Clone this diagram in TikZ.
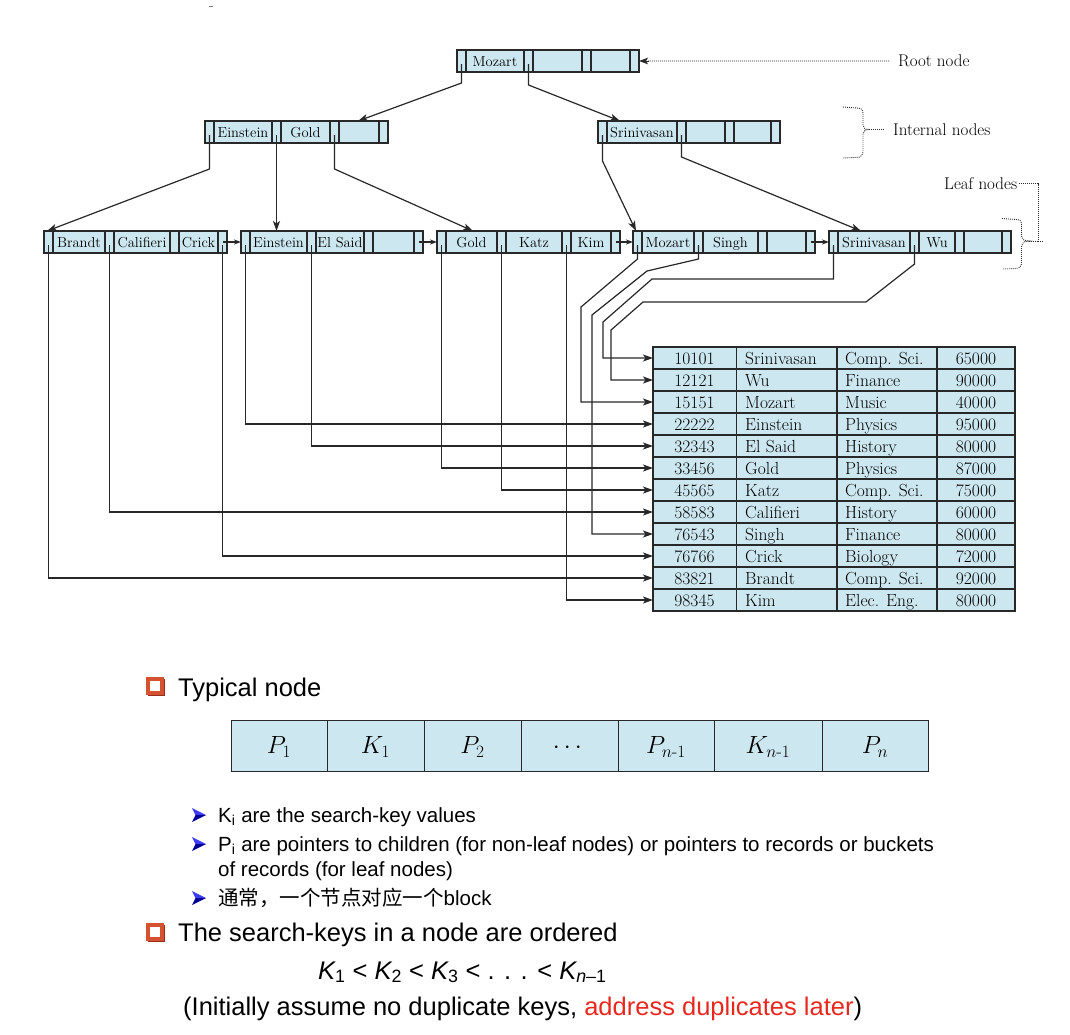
\documentclass[tikz,border=0pt]{standalone}
\usepackage{fontspec}
\usepackage{amsmath}
\usetikzlibrary{arrows.meta,calc}
\newfontfamily\arialf{Liberation Sans}
\newfontfamily\cjkf{Noto Sans CJK SC}
\definecolor{cellblue}{RGB}{204,231,240}
\definecolor{edgec}{RGB}{40,40,40}
\definecolor{redtxt}{RGB}{232,40,30}
\definecolor{sqc}{RGB}{212,82,48}
\definecolor{sqd}{RGB}{150,45,25}
\definecolor{bullb}{RGB}{60,60,245}
\definecolor{bulld}{RGB}{0,0,150}
\tikzset{
  bbox/.style={draw=edgec, fill=cellblue, line width=1.1pt, inner sep=0pt, outer sep=0pt, minimum height=22pt},
  cellsep/.style={draw=edgec, line width=1.1pt},
  keyt/.style={anchor=base, inner sep=0pt, text=black, font=\fontsize{14.5}{16}\selectfont},
  tabt/.style={inner sep=0pt, text=black, font=\fontsize{17.5}{20}\selectfont},
  labt/.style={inner sep=0pt, text=black, font=\fontsize{17}{20}\selectfont},
  conn/.style={draw=edgec, line width=1.2pt},
  arr/.style={conn, -{Stealth[length=10pt,width=7pt,inset=2.5pt]}},
  sarr/.style={conn, -{Stealth[length=7pt,width=5pt,inset=2pt]}},
  dotl/.style={draw=edgec, line width=0.9pt, dash pattern=on 0.9pt off 1.1pt},
  bigt/.style={inner sep=0pt, text=black, font=\arialf\fontsize{25.5}{30}\selectfont},
  bult/.style={inner sep=0pt, text=black, font=\arialf\fontsize{20.5}{24}\selectfont},
  tncell/.style={draw=edgec, fill=cellblue, line width=0.9pt, inner sep=0pt, outer sep=0pt,
     minimum height=51pt, text height=20pt, text depth=4pt, font=\fontsize{26}{30}\selectfont}
}
% B+-tree node: #1 name, #2 left x, #3 top y, #4-#6 key cell widths, #7-#9 keys
\newcommand\bnode[9]{%
  \pgfmathsetmacro\bnXa{#2}%
  \pgfmathsetmacro\bnXb{\bnXa+9}%
  \pgfmathsetmacro\bnXc{\bnXb+#4}%
  \pgfmathsetmacro\bnXd{\bnXc+9}%
  \pgfmathsetmacro\bnXe{\bnXd+#5}%
  \pgfmathsetmacro\bnXf{\bnXe+9}%
  \pgfmathsetmacro\bnXg{\bnXf+#6}%
  \pgfmathsetmacro\bnXh{\bnXg+9}%
  \pgfmathsetmacro\bnW{\bnXh-\bnXa}%
  \pgfmathsetmacro\bnYm{#3+11}%
  \pgfmathsetmacro\bnYb{#3+22}%
  \pgfmathsetmacro\bnYt{#3+14}%
  \pgfmathsetmacro\bnYk{#3+16}%
  \node[bbox, minimum width=\bnW pt, anchor=north west] (#1) at (\bnXa,#3) {};
  \foreach \bnx in {\bnXb,\bnXc,\bnXd,\bnXe,\bnXf,\bnXg} {\draw[cellsep] (\bnx,#3) -- (\bnx,\bnYb);}
  \node[keyt] (#1-k1) at ({(\bnXb+\bnXc)/2},\bnYk) {#7};
  \node[keyt] (#1-k2) at ({(\bnXd+\bnXe)/2},\bnYk) {#8};
  \node[keyt] (#1-k3) at ({(\bnXf+\bnXg)/2},\bnYk) {#9};
  \coordinate (#1-t1) at ({\bnXa+4.5},\bnYt);
  \coordinate (#1-t2) at ({\bnXc+4.5},\bnYt);
  \coordinate (#1-t3) at ({\bnXe+4.5},\bnYt);
  \coordinate (#1-t4) at ({\bnXg+4.5},\bnYt);
  \coordinate (#1-m4) at ({\bnXg+4.5},\bnYm);
}
\begin{document}
\begin{tikzpicture}[x=1pt,y=-1pt]
\useasboundingbox (0,0) rectangle (1070,1034);
\fill[white] (0,0) rectangle (1070,1034);
\draw[gray, line width=0.8pt] (209,6) -- (213,6);

% ---------- tree nodes ----------
\bnode{R}{457}{50}{58}{49}{39}{Mozart}{}{}
\bnode{IL}{205}{121}{58}{49}{40}{Einstein}{Gold}{}
\bnode{IR}{598}{121}{70}{39}{37}{Srinivasan}{}{}
\bnode{LA}{44}{231}{52}{56}{39}{Brandt}{Califieri}{Crick}
\bnode{LB}{241}{231}{57}{48}{41}{Einstein}{El Said}{}
\bnode{LC}{437}{231}{51}{56}{40}{Gold}{Katz}{Kim}
\bnode{LD}{633}{231}{52}{55}{39}{Mozart}{Singh}{}
\bnode{LE}{829}{231}{72}{36}{38}{Srinivasan}{Wu}{}

% tree pointers
\draw[arr] (R-t1) -- ++(0,19) -- ([xshift=153pt]IL.north west);
\draw[arr] (R-t2) -- ++(0,21) -- ([xshift=22pt]IR.north west);
\draw[arr] (IL-t1) -- (209.5,169) -- ([xshift=3pt]LA.north west);
\draw[arr] (IL-t2) -- (IL-t2 |- LB.north);
\draw[arr] (IL-t3) -- (334.5,169) -- ([xshift=36pt]LC.north west);
\draw[arr] (IR-t1) -- (602.5,161) -- ([xshift=3pt]LD.north west);
\draw[arr] (IR-t2) -- (681.5,157) -- ([xshift=32pt]LE.north west);

% leaf chain
\draw[sarr] (LA-m4) -- (LB.west);
\draw[sarr] (LB-m4) -- (LC.west);
\draw[sarr] (LC-m4) -- (LD.west);
\draw[sarr] (LD-m4) -- (LE.west);

% ---------- labels ----------
\node[labt, anchor=base west] (rootlab) at (898,66.8) {Root node};
\draw[dotl] ([xshift=-9pt]rootlab.west) -- ([xshift=9pt]R.east);
\draw[edgec, -{Stealth[length=9pt,width=6.5pt,inset=2pt]}, line width=1pt] ([xshift=10pt]R.east) -- (R.east);

\node[labt, anchor=base west] (intlab) at (893,135.3) {Internal nodes};
\coordinate (inub) at (869,129.5);
\draw[dotl] (843,107) -- (857,108) .. controls (862,108) and (863,110) .. (863,114) -- (863,125)
  .. controls (863,128) and (865,129.5) .. (inub)
  .. controls (865,129.5) and (863,131) .. (863,134) -- (863,151)
  .. controls (863,155) and (861,157.5) .. (856,157.5) -- (843,158);
\draw[dotl] (inub) -- ([xshift=-9pt]intlab.west);

\node[labt, anchor=base west] (leaflab) at (944,189.8) {Leaf nodes};
\coordinate (lnub) at (1029,241);
\draw[dotl] (1002,218.5) -- (1016,219.5) .. controls (1020,219.5) and (1021.5,221) .. (1021.5,225) -- (1021.5,236)
  .. controls (1021.5,239) and (1024,241) .. (lnub)
  .. controls (1024,241) and (1021.5,243) .. (1021.5,246) -- (1021.5,263)
  .. controls (1021.5,267) and (1019,268.5) .. (1015,268.5) -- (1002,269);
\draw[dotl] ([xshift=2pt]leaflab.east) -| (1038,241) -- (lnub);
\draw[dotl] (1038,241) -- (1043,241);

% ---------- table ----------
\node[draw=edgec, fill=cellblue, line width=1.1pt, inner sep=0pt, outer sep=0pt,
      minimum width=362pt, minimum height=264pt, anchor=north west] (tbl) at (653,347) {};
\foreach \yy in {1,...,11} {\draw[cellsep] (653,347+22*\yy) -- (1015,347+22*\yy);}
\foreach \xx in {736.5,837,937} {\draw[cellsep] (\xx,347) -- (\xx,611);}
\foreach \cid/\cnm/\cdept/\csal [count=\i] in {
  10101/Srinivasan/Comp. Sci./65000,
  12121/Wu/Finance/90000,
  15151/Mozart/Music/40000,
  22222/Einstein/Physics/95000,
  32343/El Said/History/80000,
  33456/Gold/Physics/87000,
  45565/Katz/Comp. Sci./75000,
  58583/Califieri/History/60000,
  76543/Singh/Finance/80000,
  76766/Crick/Biology/72000,
  83821/Brandt/Comp. Sci./92000,
  98345/Kim/Elec. Eng./80000} {
  \pgfmathsetmacro\ry{347+22*\i-5}
  \pgfmathsetmacro\rc{347+22*\i-11}
  \coordinate (row\i) at (653,\rc);
  \node[tabt, anchor=base] (r\i) at (694.5,\ry) {\cid};
  \node[tabt, anchor=base west] (n\i) at (745,\ry) {\cnm};
  \node[tabt, anchor=base west] (d\i) at (845,\ry) {\cdept};
  \node[tabt, anchor=base] (s\i) at (976,\ry) {\csal};
}

% ---------- record pointers ----------
\draw[arr] (LB-t1) |- (row4);
\draw[arr] (LB-t2) |- (row5);
\draw[arr] (LC-t1) |- (row6);
\draw[arr] (LC-t2) |- (row7);
\draw[arr] (LA-t2) |- (row8);
\draw[arr] (LA-t4) |- (row10);
\draw[arr] (LA-t1) |- (row11);
\draw[arr] (LC-t3) |- (row12);
\draw[arr] (LD-t1) -- (637.5,259) -- (581,307) |- (row3);
\draw[arr] (LD-t2) -- (698.5,259) -- (647,271) -- (592,315) |- (row9);
\draw[arr] (LE-t1) -- (833.5,279) -- (652,279) -- (603,322) |- (row1);
\draw[arr] (LE-t2) -- (914.5,264) -- (866,302) -- (643,302) -- (611,330) |- (row2);

% ---------- lower text ----------
\fill[sqd] (147.5,678.5) rectangle (165,696);
\fill[sqc] (146,677) rectangle (163.5,694.5);
\fill[white] (149.5,680.5) rectangle (160,691);
\node[bigt, anchor=base west] (tnlab) at (178,696.5) {Typical node};

\node[tncell, minimum width=96pt]  (c1) at (279,745.5) {$P_1$};
\node[tncell, minimum width=97pt]  (c2) at (375.5,745.5) {$K_1$};
\node[tncell, minimum width=97pt]  (c3) at (472.5,745.5) {$P_2$};
\node[tncell, minimum width=97pt]  (c4) at (569.5,745.5) {$\cdots$};
\node[tncell, minimum width=96pt]  (c5) at (666,745.5) {$P_{n\textrm{-}1}$};
\node[tncell, minimum width=108pt] (c6) at (768,745.5) {$K_{n\textrm{-}1}$};
\node[tncell, minimum width=106pt] (c7) at (875,745.5) {$P_n$};

\foreach \by in {815, 844, 898} {
  \fill[bullb] (192,\by-7) -- (206,\by) -- (195.5,\by) -- cycle;
  \fill[bulld] (192,\by+7) -- (206,\by) -- (195.5,\by) -- cycle;
}
\node[bult, anchor=base west] (t1) at (218,822.5) {K\textsubscript{i} are the search-key values};
\node[bult, anchor=base west] (t2) at (218,851.5) {P\textsubscript{i} are pointers to children (for non-leaf nodes) or pointers to records or buckets};
\node[bult, anchor=base west] (t3) at (218,876.5) {of records (for leaf nodes)};
\node[bult, anchor=base west] (t4) at (218,905.5) {{\cjkf 通常，一个节点对应一个}block};

\fill[sqd] (147.5,924.5) rectangle (165,942);
\fill[sqc] (146,923) rectangle (163.5,940.5);
\fill[white] (149.5,926.5) rectangle (160,937);
\node[bigt, anchor=base west] (t5) at (178,941.5) {The search-keys in a node are ordered};
\node[bigt, anchor=base west] (t6) at (318,979) {{\itshape K}\textsubscript{1} < {\itshape K}\textsubscript{2} < {\itshape K}\textsubscript{3} < . . . < {\itshape K}\textsubscript{{\itshape n}–1}};
\node[bigt, anchor=base west] (t7) at (183,1015) {(Initially assume no duplicate keys, \textcolor{redtxt}{address duplicates later})};
\end{tikzpicture}
\end{document}
